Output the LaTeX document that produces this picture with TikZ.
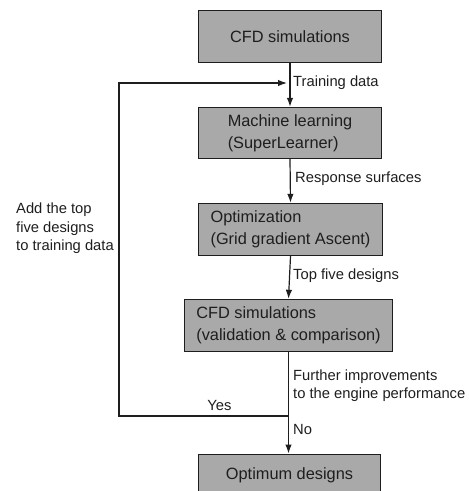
\documentclass[tikz,border=0pt]{standalone}
\usepackage{fontspec}
\setmainfont{Liberation Sans}
\usetikzlibrary{arrows.meta}
\definecolor{boxfill}{HTML}{A9A9A9}
\definecolor{ink}{HTML}{1E1E1E}
\tikzset{
  procbox/.style={draw=ink, fill=boxfill, line width=1.4bp, inner sep=0pt,
    align=left, text=ink, font=\fontsize{16.4}{22}\selectfont},
  lbl/.style={inner sep=0pt, align=left, text=ink, font=\fontsize{14.8}{17.8}\selectfont},
  conn/.style={draw=ink, line width=1.2bp},
  arr/.style={conn, -{Latex[length=9bp,width=6.5bp]}}
}
\begin{document}
\begin{tikzpicture}[x=1bp,y=-1bp]
\useasboundingbox (0,0) rectangle (469,491);
\node[procbox, minimum width=183bp, minimum height=52bp] (b1) at (290,36.5) {CFD simulations};
\node[procbox, minimum width=183bp, minimum height=51bp] (b2) at (290,133) {Machine learning\\(SuperLearner)};
\node[procbox, minimum width=184bp, minimum height=52bp] (b3) at (290.5,229.5) {Optimization\\(Grid gradient Ascent)};
\node[procbox, minimum width=208bp, minimum height=52bp] (b4) at (288.5,325.5) {CFD simulations\\(validation \& comparison)};
\node[procbox, minimum width=182bp, minimum height=42bp, anchor=north] (b5) at (289.5,453.5) {Optimum designs};

\coordinate (merge) at (b1.south |- 0,83);
\coordinate (split) at (b4.south |- 0,416);
\coordinate (cornerB) at (119,416);
\coordinate (cornerT) at (119,83);

\draw[arr] (b1.south) -- (b2.north);
\draw[arr] (b2.south) -- (b3.north);
\draw[arr] (b3.south) -- (b4.south |- b4.north);
\draw[arr] (b4.south) -- (b4.south |- b5.north);
\draw[arr, shorten >=3bp] (split) -- (cornerB) -- (cornerT) -- (merge);

\node[lbl, anchor=west] (l1) at (293,83) {Training data};
\node[lbl, anchor=west] (l2) at (295,179) {Response surfaces};
\node[lbl, anchor=west] (l3) at (293,276) {Top five designs};
\node[lbl, anchor=west] (l4) at (293,385.5) {Further improvements\\to the engine performance};
\node[lbl, anchor=west] (l5) at (293,429) {No};
\node[lbl] (l6) at (219.5,405) {Yes};
\node[lbl, anchor=west, font=\fontsize{14.8}{18.5}\selectfont] (l7) at (16,228.5) {Add the top\\five designs\\to training data};
\end{tikzpicture}
\end{document}
